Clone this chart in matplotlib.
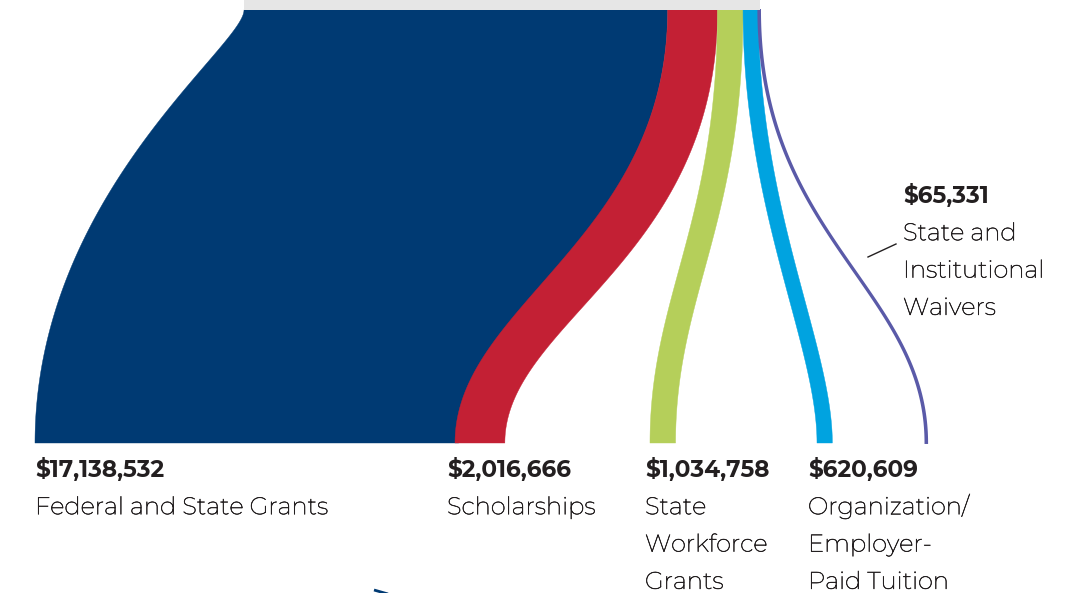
"""
Sankey-like flow: total aid split into five sources (values from the reference figure).
"""

import matplotlib
matplotlib.use("Agg")
import matplotlib.pyplot as plt
import matplotlib.patheffects as pe
import numpy as np
from matplotlib.patches import Polygon, Rectangle

plt.rcParams["font.family"] = ["Montserrat", "Open Sans", "DejaVu Sans"]

# ---- data ----
categories = ["Federal and State Grants", "Scholarships", "State Workforce Grants",
              "Organization/Employer-Paid Tuition", "State and Institutional Waivers"]
amounts = [17138532, 2016666, 1034758, 620609, 65331]
label_lines = [["Federal and State Grants"], ["Scholarships"],
               ["State", "Workforce", "Grants"],
               ["Organization/", "Employer-", "Paid Tuition"],
               ["State and", "Institutional", "Waivers"]]

# ---- layout / style (pixel space) ----
colors = ["#003A73", "#C32034", "#B5CF5A", "#00A3E0", "#5A5AA8"]
bar_x0, bar_x1, bar_y1 = 244, 760, 10
flow_bottom = 443
bottom_x = [35, 455, 650, 817, 925.5]
# bezier control offsets (top, bottom) for left and right edge of each band
edge_left = [(36, 248), (230, 138), (216, 148), (200, 98), (227, 153)]
edge_right = [(230, 138), (250, 121), (216, 148), (200, 98), (227, 153)]
label_pos = [(35, 477), (447, 477), (645, 477), (808, 477), (903, 203)]
TXT = "#231F20"
FS_VAL = 16.7
FS = 17.4
LINE = 37.3


def bez(x0, y0, x1, y1, b, k, n=200):
    t = np.linspace(0, 1, n)[:, None]
    p0 = np.array([x0, y0]); p1 = np.array([x0, y0 + b])
    p2 = np.array([x1, y1 - k]); p3 = np.array([x1, y1])
    return (1 - t) ** 3 * p0 + 3 * (1 - t) ** 2 * t * p1 + 3 * (1 - t) * t ** 2 * p2 + t ** 3 * p3


fig = plt.figure(figsize=(10.75, 5.93), dpi=100)
ax = fig.add_axes([0, 0, 1, 1])
ax.set_xlim(0, 1075); ax.set_ylim(593, 0); ax.axis("off")

scale = (bar_x1 - bar_x0) / sum(amounts)
top = bar_x0
for i, v in enumerate(amounts):
    w = v * scale
    left = bez(top, bar_y1, bottom_x[i], flow_bottom, *edge_left[i])
    right = bez(top + w, bar_y1, bottom_x[i] + w, flow_bottom, *edge_right[i])
    pts = np.vstack([left, right[::-1]])
    lw = 1.4 if w < 3 else 0.3
    ax.add_patch(Polygon(pts, closed=True, facecolor=colors[i], edgecolor=colors[i],
                         linewidth=lw, zorder=2))
    top += w

ax.add_patch(Rectangle((bar_x0, -20), bar_x1 - bar_x0, bar_y1 + 20, facecolor="#E6E6E6",
                       edgecolor="none", zorder=3))

# Montserrat is only installed as Thin: a faint stroke brings it near Light
thicken = [pe.withStroke(linewidth=0.4, foreground=TXT)]
for i, v in enumerate(amounts):
    x, y = label_pos[i]
    ax.text(x, y, f"${v:,}", fontsize=FS_VAL, fontweight=700, color=TXT, va="baseline",
            ha="left", family=["Montserrat Alternates", "Open Sans"])
    for j, ln in enumerate(label_lines[i]):
        ax.text(x, y + LINE * (j + 1), ln, fontsize=FS, color=TXT,
                va="baseline", ha="left", path_effects=thicken)

# leader line for the small waiver flow
ax.plot([868, 896], [257, 244], color="#231F20", linewidth=1.0)
# fragment of the next element at the bottom edge
ax.plot([374, 388], [590, 594], color=colors[0], linewidth=2.0, solid_capstyle="butt")

fig.savefig("out.png", dpi=100)
